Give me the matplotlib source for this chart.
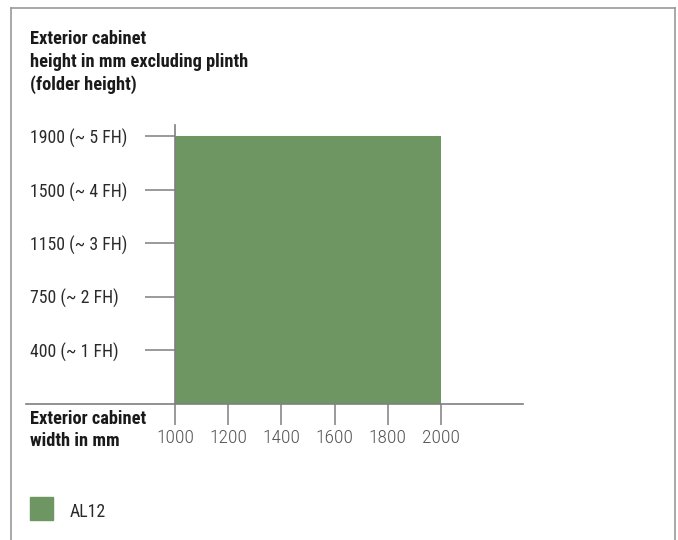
import matplotlib
matplotlib.use("Agg")
import matplotlib.pyplot as plt
from matplotlib.lines import Line2D
from matplotlib.patches import Rectangle

# ---- data ----
height_mm = [400, 750, 1150, 1500, 1900]
height_fh = [1, 2, 3, 4, 5]
height_labels = [f"{h} (~ {f} FH)" for h, f in zip(height_mm, height_fh)]
width_ticks = [1000, 1200, 1400, 1600, 1800, 2000]
series_name = "AL12"
series_width_min = 1000
series_width_max = 2000
series_height_level = 5  # up to 1900 (~5 FH)

GREEN = "#6e9663"
AXIS = "#7f7f7f"
FONT = ["Roboto Condensed", "Archivo Narrow", "DejaVu Sans"]
plt.rcParams["font.family"] = FONT

W, H = 678, 540
fig = plt.figure(figsize=(W / 100, H / 100), dpi=100)

def fx(px):
    return px / W

def fy(py):
    return 1 - py / H

# frame (open at bottom)
for xs, ys in [([11, 11], [H, 8]), ([11, 675], [8, 8]), ([675, 675], [8, H])]:
    fig.add_artist(Line2D([fx(x) for x in xs], [fy(y) for y in ys],
                          color="#9a9a9a", lw=1.2, transform=fig.transFigure))

ax = fig.add_axes([fx(26), fy(403.5), (523 - 26) / W, (403.5 - 125) / H])
ax.set_xlim(439.8, 2308)
ax.set_ylim(0, 5.215)

ax.bar(series_width_min, series_height_level,
       width=series_width_max - series_width_min, align="edge",
       color=GREEN, edgecolor="none", zorder=1, label=series_name)

for s in ["top", "right"]:
    ax.spines[s].set_visible(False)
ax.spines["left"].set_position(("data", 1000))
ax.spines["left"].set_color(AXIS)
ax.spines["bottom"].set_color(AXIS)
ax.spines["left"].set_linewidth(1.2)
ax.spines["bottom"].set_linewidth(1.2)
ax.spines["left"].set_zorder(3)

ax.set_yticks(height_fh)
ax.set_yticklabels(height_labels)
ax.tick_params(axis="y", direction="out", length=21.6, width=1.1, color=AXIS,
               pad=82.8, labelsize=12.8, labelcolor="#2a2a2a")
for t in ax.get_yticklabels():
    t.set_horizontalalignment("left")

ax.set_xticks(width_ticks)
ax.set_xticklabels([str(v) for v in width_ticks])
ax.tick_params(axis="x", direction="out", length=15.1, width=1.1, color=AXIS,
               pad=3.5, labelsize=14, labelcolor="#555555")
for t in ax.get_xticklabels():
    t.set_fontweight("light")

# titles
fig.text(fx(30), fy(30.5), "Exterior cabinet\nheight in mm excluding plinth\n(folder height)",
         ha="left", va="top", fontsize=13.2, fontweight="bold", color="#1a1a1a",
         linespacing=1.3)
fig.text(fx(30), fy(409.5), "Exterior cabinet\nwidth in mm",
         ha="left", va="top", fontsize=13.2, fontweight="bold", color="#1a1a1a",
         linespacing=1.32)

# legend
fig.add_artist(Rectangle((fx(30), fy(520)), 23 / W, 23 / H, color=GREEN,
                         transform=fig.transFigure))
fig.text(fx(70), fy(512), series_name, ha="left", va="center", fontsize=12.8,
         color="#2a2a2a")

fig.savefig("out.png", dpi=100)
